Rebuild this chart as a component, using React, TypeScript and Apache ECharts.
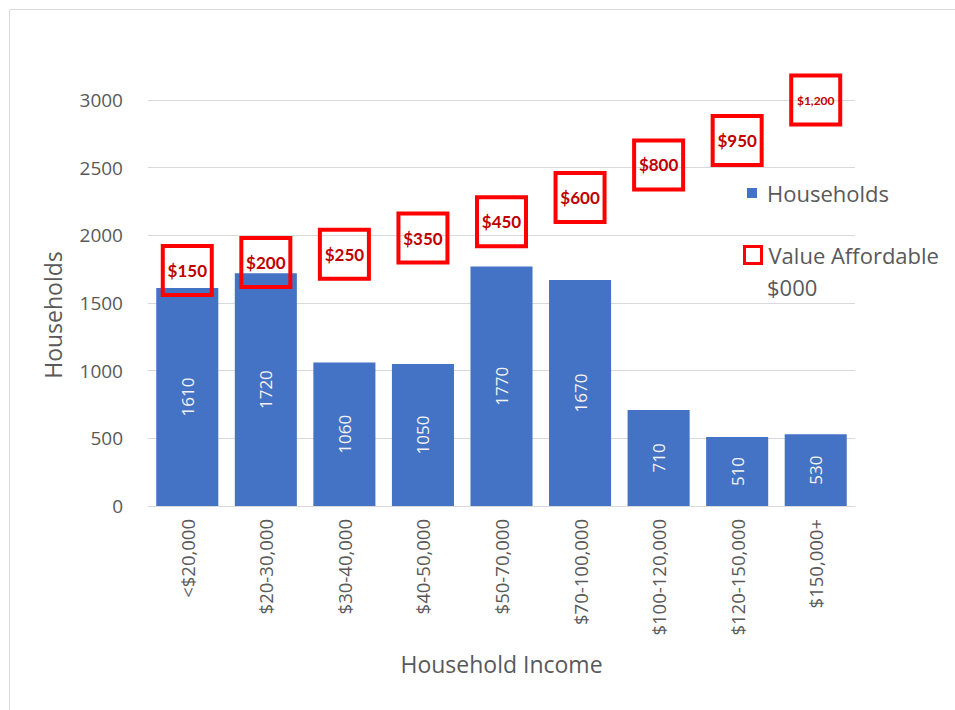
import React, { useEffect, useRef } from "react";
import * as echarts from "echarts";

const categories = [
  "<$20,000",
  "$20-30,000",
  "$30-40,000",
  "$40-50,000",
  "$50-70,000",
  "$70-100,000",
  "$100-120,000",
  "$120-150,000",
  "$150,000+",
];
const households = [1610, 1720, 1060, 1050, 1770, 1670, 710, 510, 530];
const valueAffordable = [150, 200, 250, 350, 450, 600, 800, 950, 1200];
const yMin = 0;
const yMax = 3000;
const yInterval = 500;
// hidden secondary scale for the "Value Affordable" markers
const y2Min = -1300;
const y2Max = 1200;

const FONT = "'Open Sans'";
const GREY = "#595959";

export default function App() {
  const ref = useRef<HTMLDivElement>(null);
  useEffect(() => {
    if (!ref.current) return;
    const chart = echarts.init(ref.current, null, { renderer: "svg" });
    chart.setOption({
      animation: false,
      backgroundColor: "#ffffff",
      textStyle: { fontFamily: FONT },
      grid: { left: 148, right: 100, top: 100, bottom: 204, containLabel: false },
      graphic: [
        {
          type: "rect",
          silent: true,
          shape: { x: 9.5, y: 9.5, width: 1000, height: 1000 },
          style: { fill: "none", stroke: "#D9D9D9", lineWidth: 1 },
          z: -10,
        },
        {
          type: "text",
          left: 767,
          top: 276,
          style: { text: "$000", fill: GREY, font: `22px ${FONT}` },
        },
      ],
      legend: [
        {
          data: [{ name: "Households", icon: "rect" }],
          orient: "vertical",
          left: 747,
          top: 182,
          padding: 0,
          itemWidth: 10,
          itemHeight: 10,
          textStyle: { color: GREY, fontSize: 22, fontFamily: FONT, padding: [0, 0, 0, 5] },
          selectedMode: false,
        },
        {
          data: [
            {
              name: "Value Affordable",
              icon: "rect",
              itemStyle: { color: "#ffffff", borderColor: "#FF0000", borderWidth: 3 },
            },
          ],
          orient: "vertical",
          left: 743,
          top: 244,
          padding: 0,
          itemWidth: 17,
          itemHeight: 17,
          textStyle: { color: GREY, fontSize: 22, fontFamily: FONT, padding: [0, 0, 0, 2] },
          selectedMode: false,
        },
      ],
      xAxis: {
        type: "category",
        data: categories,
        name: "Household Income",
        nameLocation: "middle",
        nameGap: 146,
        nameTextStyle: { color: GREY, fontSize: 23, fontFamily: FONT },
        axisLine: { show: true, lineStyle: { color: "#D9D9D9" } },
        axisTick: { show: false },
        axisLabel: {
          rotate: 90,
          interval: 0,
          margin: 13,
          color: GREY,
          fontSize: 18.5,
          fontFamily: FONT,
        },
      },
      yAxis: [
        {
          type: "value",
          min: yMin,
          max: yMax,
          interval: yInterval,
          name: "Households",
          nameLocation: "middle",
          nameGap: 84,
          nameTextStyle: { color: GREY, fontSize: 23, fontFamily: FONT, padding: [0, 24, 0, 0] },
          axisLine: { show: false },
          axisTick: { show: false },
          axisLabel: {
            color: GREY,
            fontSize: 19,
            fontFamily: FONT,
            margin: 25,
            formatter: (v: number) => String(v),
          },
          splitLine: { lineStyle: { color: "#D9D9D9" } },
        },
        {
          type: "value",
          min: y2Min,
          max: y2Max,
          show: false,
          splitLine: { show: false },
        },
      ],
      series: [
        {
          name: "Households",
          type: "bar",
          data: households,
          barCategoryGap: "21%",
          itemStyle: { color: "#4472C4" },
          label: {
            show: true,
            position: "inside",
            rotate: 90,
            color: "#F2F2F2",
            fontSize: 17,
            fontFamily: FONT,
          },
          z: 2,
        },
        {
          name: "Value Affordable",
          type: "scatter",
          yAxisIndex: 1,
          clip: false,
          symbol: "rect",
          symbolSize: 49,
          data: valueAffordable.map((v) => ({
            value: v,
            label: v >= 1000 ? { fontSize: 12 } : undefined,
          })),
          itemStyle: { color: "transparent", borderColor: "#FF0000", borderWidth: 4, opacity: 1 },
          label: {
            show: true,
            position: "inside",
            color: "#C00000",
            fontWeight: "bold",
            fontSize: 17,
            fontFamily: "Lato",
            formatter: (p: any) => "$" + Number(p.value).toLocaleString("en-US"),
          },
          z: 5,
        },
      ],
    });
    return () => chart.dispose();
  }, []);
  return (
    <div
      ref={ref}
      style={{ position: "absolute", left: 0, top: 0, width: 955, height: 710 }}
    />
  );
}
